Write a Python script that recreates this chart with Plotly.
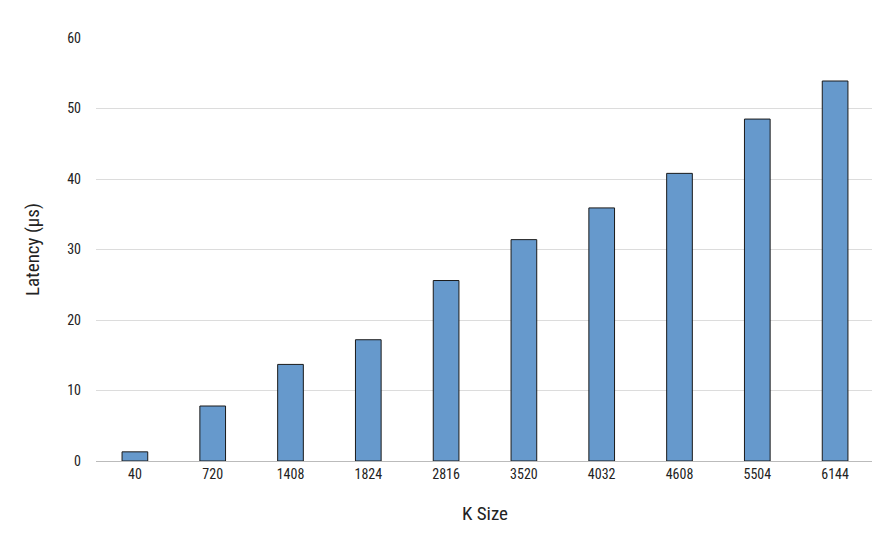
import plotly.graph_objects as go

k_sizes = ["40", "720", "1408", "1824", "2816", "3520", "4032", "4608", "5504", "6144"]
latency = [1.3, 7.8, 13.7, 17.2, 25.6, 31.4, 35.9, 40.8, 48.5, 53.9]

font = "Liberation Sans Narrow, Roboto Condensed, Arial Narrow, sans-serif"
fig = go.Figure(go.Bar(
    x=k_sizes, y=latency, width=0.33,
    marker=dict(color="#6699CC", line=dict(color="#1a1a1a", width=1)),
))
fig.update_layout(
    width=880, height=536, plot_bgcolor="white", paper_bgcolor="white",
    margin=dict(l=88, r=14, t=30, b=83, autoexpand=False),
    font=dict(family=font, size=14, color="#222"),
    showlegend=False,
    xaxis=dict(title=dict(text="K Size", font=dict(size=19), standoff=25), automargin=False,
               type="category", showline=True, linecolor="#bbb", ticks="", tickfont=dict(size=14)),
    yaxis=dict(title=dict(text="Latency (µs)", font=dict(size=19), standoff=22), automargin=False,
               range=[0, 60], dtick=10, gridcolor="#dcdcdc", showline=False,
               zeroline=False, tickfont=dict(size=14), ticklabelstandoff=14),
)
fig.write_html("out.html")
